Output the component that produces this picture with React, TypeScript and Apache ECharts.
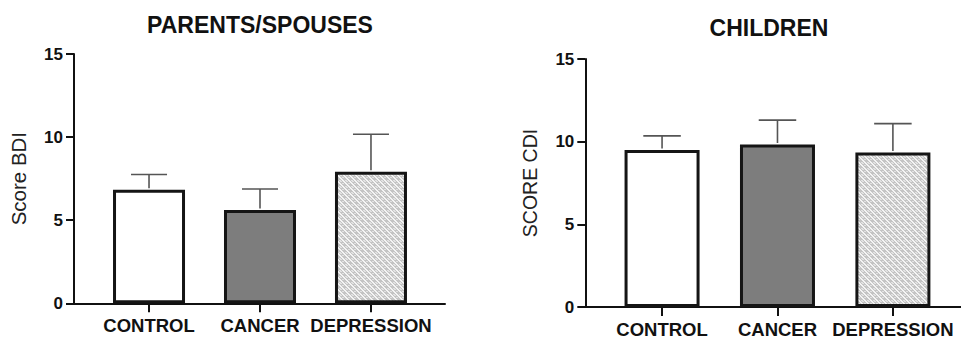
import React, { useEffect, useRef } from "react";
import * as echarts from "echarts";

const categories = ["CONTROL", "CANCER", "DEPRESSION"];
const parentsMean = [6.83, 5.61, 7.92];
const parentsUpper = [7.75, 6.88, 10.17];
const childrenMean = [9.5, 9.83, 9.34];
const childrenUpper = [10.35, 11.3, 11.09];
const yTicks = [0, 5, 10, 15];
const titles = ["PARENTS/SPOUSES", "CHILDREN"];
const yNames = ["Score BDI", "SCORE CDI"];

const FONT = "'Liberation Sans', Arial, Helvetica, sans-serif";

function makePattern(): HTMLCanvasElement {
  const c = document.createElement("canvas");
  c.width = 6;
  c.height = 6;
  const ctx = c.getContext("2d")!;
  ctx.fillStyle = "#c4c4c4";
  ctx.fillRect(0, 0, 6, 6);
  ctx.fillStyle = "#f4f4f4";
  ctx.fillRect(0, 0, 2, 1);
  ctx.fillRect(1, 1, 2, 1);
  ctx.fillRect(2, 2, 2, 1);
  ctx.fillRect(3, 3, 2, 1);
  ctx.fillRect(4, 4, 2, 1);
  ctx.fillRect(5, 5, 1, 1);
  ctx.fillRect(0, 5, 1, 1);
  ctx.fillStyle = "#e2e2e2";
  ctx.fillRect(3, 0, 2, 1);
  ctx.fillRect(4, 1, 2, 1);
  ctx.fillRect(0, 3, 2, 1);
  return c;
}

export default function App() {
  const ref = useRef<HTMLDivElement>(null);
  useEffect(() => {
    document.body.style.margin = "0";
    const chart = echarts.init(ref.current!, null, { renderer: "svg" });
    const pattern = makePattern();

    const fills = [
      "#ffffff",
      "#7d7d7d",
      { image: pattern, repeat: "repeat" },
    ];

    const grids = [
      { left: 74, right: 516, top: 54, bottom: 35.7 },
      { left: 585.3, right: 0, top: 59, bottom: 31.7 },
    ];
    const xRanges = [
      { min: -0.676, max: 2.667 },
      { min: -0.665, max: 2.59 },
    ];
    const barWidths = [72, 75];
    const means = [parentsMean, childrenMean];
    const uppers = [parentsUpper, childrenUpper];

    const xAxis = [0, 1].map((i) => ({
      type: "value",
      gridIndex: i,
      min: xRanges[i].min,
      max: xRanges[i].max,
      splitLine: { show: false },
      axisLine: { onZero: false, lineStyle: { color: "#111", width: 2 } },
      axisTick: {
        customValues: [0, 1, 2],
        length: 9,
        lineStyle: { color: "#111", width: 2 },
      },
      axisLabel: {
        customValues: [0, 1, 2],
        formatter: (v: number) => categories[Math.round(v)] ?? "",
        fontFamily: FONT,
        fontWeight: "bold",
        fontSize: 18.5,
        color: "#111",
        margin: 13,
      },
    }));

    const yAxis = [0, 1].map((i) => ({
      type: "value",
      gridIndex: i,
      min: yTicks[0],
      max: yTicks[yTicks.length - 1],
      interval: 5,
      name: yNames[i],
      nameLocation: "middle",
      nameGap: 45,
      nameTextStyle: { fontFamily: FONT, fontSize: i === 0 ? 20.5 : 19.5, color: "#222" },
      splitLine: { show: false },
      axisLine: { onZero: false, lineStyle: { color: "#111", width: 2 } },
      axisTick: { length: 8, lineStyle: { color: "#111", width: 2 } },
      axisLabel: {
        fontFamily: FONT,
        fontWeight: "bold",
        fontSize: 17,
        color: "#111",
        margin: 11,
      },
    }));

    const series: any[] = [];
    [0, 1].forEach((i) => {
      series.push({
        type: "bar",
        xAxisIndex: i,
        yAxisIndex: i,
        barWidth: barWidths[i],
        z: 2,
        data: means[i].map((v, k) => ({
          value: [k, v],
          itemStyle: {
            color: fills[k],
            borderColor: "#151515",
            borderWidth: 3,
          },
        })),
      });
      const cap = barWidths[i] / 2;
      series.push({
        type: "custom",
        xAxisIndex: i,
        yAxisIndex: i,
        z: 3,
        encode: { x: 0, y: [1, 2] },
        data: means[i].map((v, k) => [k, v, uppers[i][k]]),
        renderItem: (params: any, api: any) => {
          const x = api.value(0);
          const p1 = api.coord([x, api.value(1)]);
          const p2 = api.coord([x, api.value(2)]);
          const style = { stroke: "#555", lineWidth: 1.6 };
          return {
            type: "group",
            children: [
              {
                type: "line",
                shape: { x1: p1[0], y1: p1[1] - 1.5, x2: p2[0], y2: p2[1] },
                style,
              },
              {
                type: "line",
                shape: {
                  x1: p2[0] - cap / 2,
                  y1: p2[1],
                  x2: p2[0] + cap / 2,
                  y2: p2[1],
                },
                style,
              },
            ],
          };
        },
      });
    });

    chart.setOption({
      animation: false,
      backgroundColor: "#ffffff",
      title: [
        {
          text: titles[0],
          left: 260,
          top: 13,
          textAlign: "center",
          padding: 0,
          textStyle: {
            fontFamily: FONT,
            fontWeight: "bold",
            fontSize: 23,
            color: "#111",
          },
        },
        {
          text: titles[1],
          left: 769,
          top: 16,
          textAlign: "center",
          padding: 0,
          textStyle: {
            fontFamily: FONT,
            fontWeight: "bold",
            fontSize: 23,
            color: "#111",
          },
        },
      ],
      grid: grids,
      xAxis,
      yAxis,
      series,
    });
    return () => chart.dispose();
  }, []);
  return (
    <div
      ref={ref}
      style={{ position: "absolute", left: 0, top: 0, width: 961, height: 339 }}
    />
  );
}
